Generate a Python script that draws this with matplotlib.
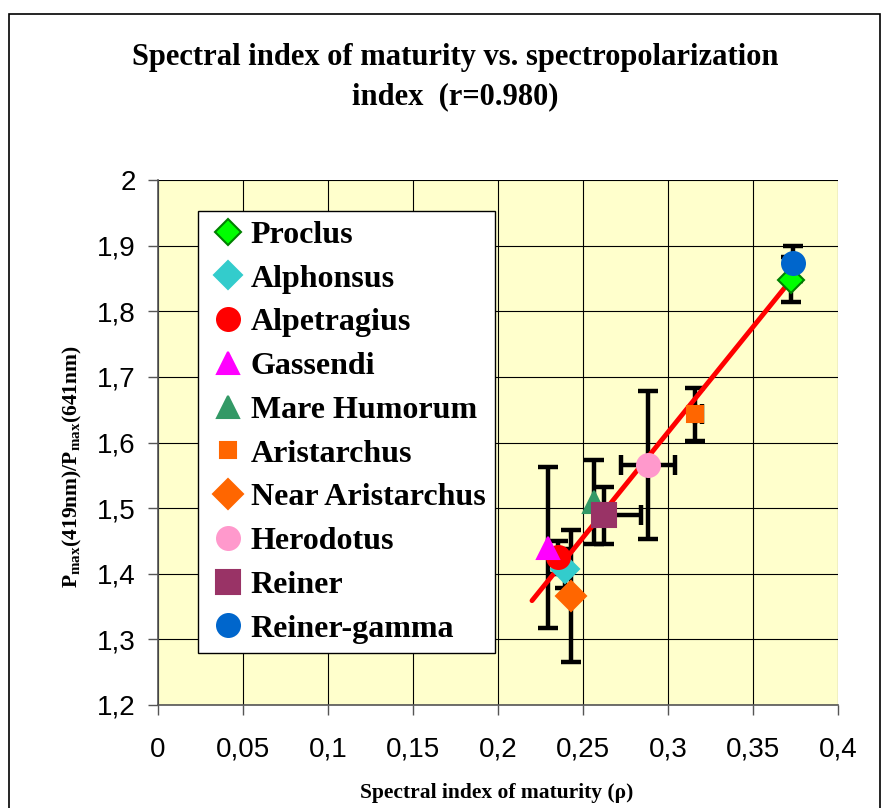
import numpy as np
import matplotlib
matplotlib.use("Agg")
import matplotlib.pyplot as plt
from matplotlib.patches import Rectangle

plt.rcParams['mathtext.fontset'] = 'custom'
plt.rcParams['mathtext.rm'] = 'Liberation Serif'
plt.rcParams['mathtext.bf'] = 'Liberation Serif:bold'

# data
names = ['Proclus', 'Alphonsus', 'Alpetragius', 'Gassendi', 'Mare Humorum',
         'Aristarchus', 'Near Aristarchus', 'Herodotus', 'Reiner', 'Reiner-gamma']
rho = [0.3725, 0.2394, 0.2353, 0.2294, 0.2565, 0.3159, 0.2429, 0.2882, 0.2624, 0.3737]
ratio = [1.848, 1.408, 1.425, 1.440, 1.509, 1.643, 1.366, 1.566, 1.489, 1.873]
y_err = [0.034, 0.030, 0.025, 0.123, 0.064, 0.040, 0.100, 0.113, 0.043, 0.027]
x_err_lo = [0, 0, 0, 0, 0, 0, 0, 0.016, 0, 0]
x_err_hi = [0, 0, 0, 0, 0, 0.004, 0, 0.016, 0.022, 0]

markers = ['D', 'D', 'o', '^', '^', 's', 'D', 'o', 's', 'o']
colors = ['#00FF00', '#33CCCC', '#FF0000', '#FF00FF', '#339966',
          '#FF6600', '#FF6600', '#FF99CC', '#993366', '#0066CC']
edges = ['#008000', '#33CCCC', '#FF0000', '#FF00FF', '#339966',
         '#FF6600', '#FF6600', '#FF99CC', '#993366', '#0066CC']
sizes = [13, 14, 16.5, 16, 16, 11, 15, 16.5, 17, 16.5]

xticks = [0, 0.05, 0.1, 0.15, 0.2, 0.25, 0.3, 0.35, 0.4]
xticklabels = ['0', '0,05', '0,1', '0,15', '0,2', '0,25', '0,3', '0,35', '0,4']
yticks = [1.2, 1.3, 1.4, 1.5, 1.6, 1.7, 1.8, 1.9, 2.0]
yticklabels = ['1,2', '1,3', '1,4', '1,5', '1,6', '1,7', '1,8', '1,9', '2']

fig = plt.figure(figsize=(8.89, 8.08), dpi=100)
fig.patches.append(Rectangle((9 / 889, -0.05), 871 / 889, 1 - 14 / 808 + 0.05,
                             transform=fig.transFigure, fill=False,
                             edgecolor='black', lw=1.2))

ax = fig.add_axes([158 / 889, 1 - 705 / 808, 680 / 889, 525 / 808])
ax.set_facecolor('#FFFFCC')

for i in range(len(names)):
    ax.errorbar(rho[i], ratio[i], yerr=y_err[i],
                xerr=[[x_err_lo[i]], [x_err_hi[i]]] if (x_err_lo[i] or x_err_hi[i]) else None,
                fmt='none', ecolor='black', elinewidth=3.2, capsize=7.5, capthick=3.2, zorder=3)

# linear trend line
k, b = np.polyfit(rho, ratio, 1)
xs = np.array([0.22, 0.3737])
ax.plot(xs, k * xs + b, color='#FF0000', lw=3.5, solid_capstyle='round', zorder=4)

for i in range(len(names)):
    ax.plot(rho[i], ratio[i], linestyle='none', marker=markers[i], ms=sizes[i],
            mfc=colors[i], mec=edges[i], mew=1.5, label=names[i], zorder=5)

ax.set_xlim(0, 0.4)
ax.set_ylim(1.2, 2.0)
ax.set_xticks(xticks)
ax.set_xticklabels(xticklabels, fontsize=20, family='Liberation Sans')
ax.set_yticks(yticks)
ax.set_yticklabels(yticklabels, fontsize=20, family='Liberation Sans')
ax.tick_params(direction='out', length=7, width=1, color='#555555')
ax.tick_params(axis='y', pad=9)
ax.tick_params(axis='x', pad=16)
ax.grid(True, color='black', lw=0.8)
ax.set_axisbelow(True)
for s in ['top', 'right']:
    ax.spines[s].set_visible(False)
for s in ['left', 'bottom']:
    ax.spines[s].set_color('#555555')
    ax.spines[s].set_linewidth(1.2)

leg = ax.legend(loc='upper left', bbox_to_anchor=(40 / 680, 494 / 525), borderaxespad=0,
                frameon=True, fancybox=False, edgecolor='black', framealpha=1,
                prop={'family': 'Liberation Serif', 'weight': 'bold', 'size': 23},
                labelspacing=0.45, handletextpad=0.05, handlelength=1.3,
                borderpad=0.3, numpoints=1, markerscale=1.0)
leg.get_frame().set_linewidth(1.0)

fig.text(0.512, 1 - 57 / 808, 'Spectral index of maturity vs. spectropolarization',
         ha='center', va='center', fontsize=22, family='Liberation Serif', weight='bold')
fig.text(0.512, 1 - 97 / 808, 'index  (r=0.980)',
         ha='center', va='center', fontsize=22, family='Liberation Serif', weight='bold')

fig.text(72 / 889, 1 - 467 / 808, r'$\mathbf{P_{max}(419nm)/P_{max}(641nm)}$',
         rotation=90, ha='center', va='center', fontsize=15.5)
fig.text(497 / 889, 1 - 793 / 808, 'Spectral index of maturity (ρ)',
         ha='center', va='center', fontsize=15.5, family='Liberation Serif', weight='bold')

fig.savefig('out.png', dpi=100)
